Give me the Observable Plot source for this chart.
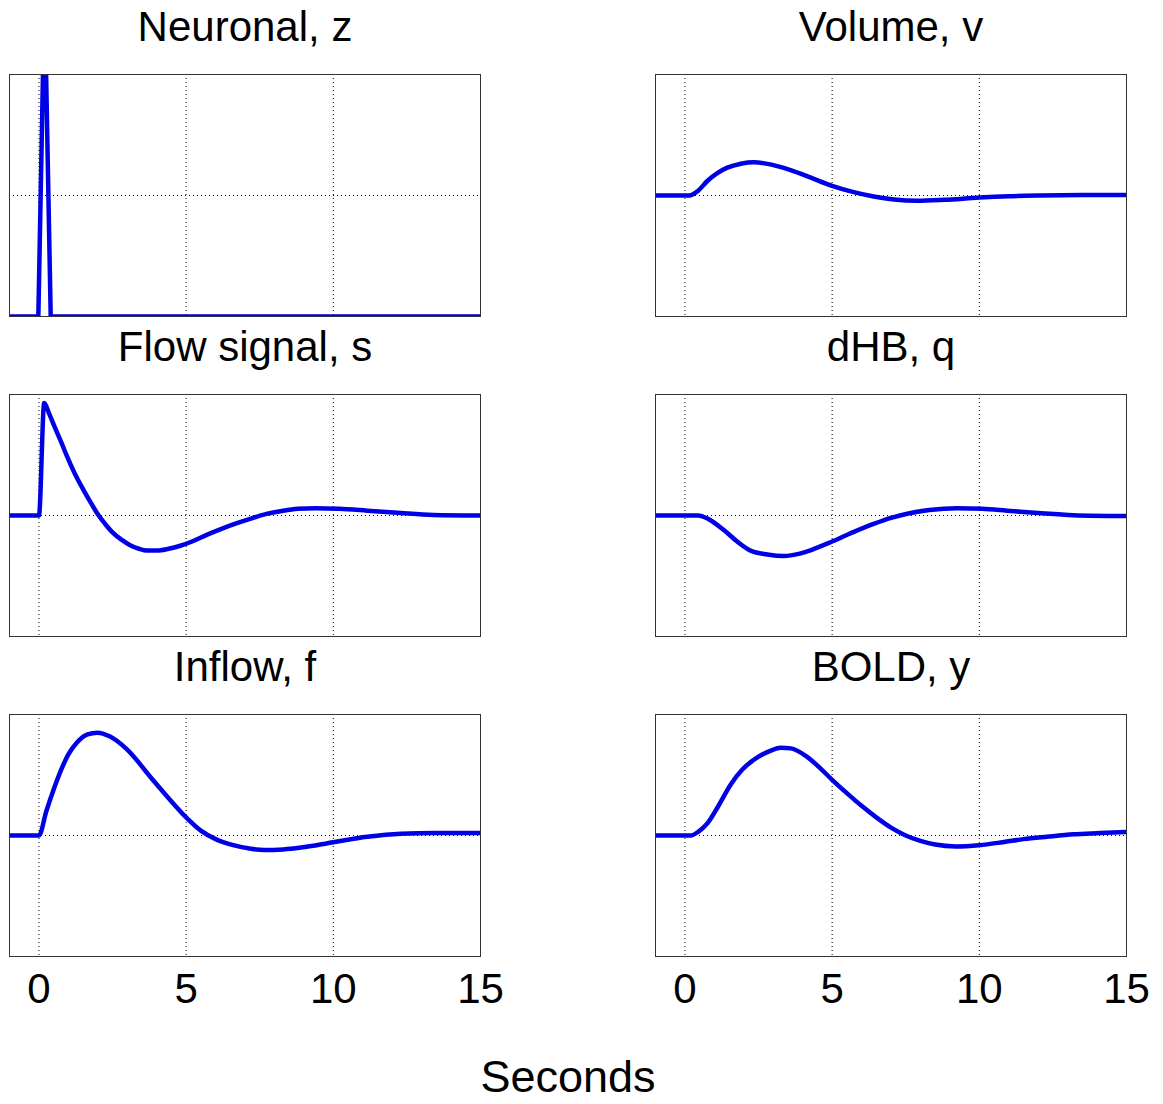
<!DOCTYPE html>
<html>
<head>
<meta charset="utf-8">
<script src="https://cdn.jsdelivr.net/npm/d3@7"></script>
<script src="https://cdn.jsdelivr.net/npm/@observablehq/plot@0.6"></script>
<style>
  body { margin: 0; background: #fff; font-family: "Liberation Sans", Arial, sans-serif; }
  #chart svg { display: block; }
  #xlabel { width: 1136px; margin-top: 24px; text-align: center; font-size: 45px; line-height: 45px; color: #000; }
</style>
</head>
<body>
<div id="chart"></div>
<div id="xlabel">Seconds</div>
<script>
// Panel layout and titles
const panelTitles = ["Neuronal, z", "Volume, v", "Flow signal, s", "dHB, q", "Inflow, f", "BOLD, y"];
const panelCols = [0, 1, 0, 1, 0, 1];
const panelRows = [0, 0, 1, 1, 2, 2];
const xTicks = [0, 5, 10, 15];
const gridX = [0, 5, 10];
const gridY = [0];

// Series (time in seconds, values in panel-normalised units, -1 = bottom, 1 = top)
const neuronalT = [-1, -0.02, 0.16, 0.22, 0.40, 15];
const neuronalZ = [-1, -1, 1.3, 1.3, -1, -1];

const volumeT = [-1, 0.15, 0.45, 0.76, 1.1, 1.44, 1.9, 2.34, 2.9, 3.59, 4.3, 5.0, 5.7, 6.41, 7.1, 7.88, 8.8, 10, 11, 12.07, 13.5, 15];
const volumeV = [0, 0, 0.04, 0.12, 0.185, 0.23, 0.263, 0.275, 0.257, 0.21, 0.145, 0.08, 0.03, -0.008, -0.033, -0.044, -0.036, -0.017, -0.006, 0, 0.004, 0.005];

const flowT = [-1, 0, 0.18, 0.35, 0.52, 0.75, 0.97, 1.25, 1.54, 1.8, 2.0, 2.25, 2.5, 2.8, 3.1, 3.4, 3.7, 4.0, 4.4, 4.8, 5.2, 5.7, 6.2, 6.7, 7.2, 7.76, 8.3, 8.8, 9.4, 10.2, 11.15, 12.3, 13.4, 15];
const flowS = [0, 0, 0.93, 0.84, 0.74, 0.61, 0.48, 0.33, 0.20, 0.09, 0.01, -0.07, -0.14, -0.2, -0.245, -0.275, -0.29, -0.29, -0.275, -0.25, -0.215, -0.16, -0.11, -0.065, -0.025, 0.015, 0.04, 0.055, 0.06, 0.055, 0.04, 0.02, 0.005, 0];

const dhbT = [-1, 0.45, 0.8, 1.32, 1.8, 2.23, 2.8, 3.36, 3.9, 4.45, 5.0, 5.7, 6.41, 7.0, 7.55, 8.3, 9.24, 10.1, 10.94, 12, 13.2, 15];
const dhbQ = [0, 0, -0.03, -0.12, -0.22, -0.29, -0.322, -0.335, -0.315, -0.27, -0.215, -0.14, -0.07, -0.02, 0.015, 0.045, 0.06, 0.055, 0.04, 0.02, 0.002, -0.005];

const inflowT = [-1, 0, 0.25, 0.5, 0.75, 1.0, 1.3, 1.65, 1.99, 2.4, 3.0, 3.8, 4.4, 5.0, 5.5, 6.0, 6.6, 7.2, 7.65, 8.3, 8.9, 10, 11.15, 12.3, 13.4, 15];
const inflowF = [0, 0, 0.2, 0.38, 0.54, 0.67, 0.77, 0.835, 0.85, 0.82, 0.71, 0.48, 0.31, 0.15, 0.04, -0.03, -0.08, -0.11, -0.12, -0.115, -0.1, -0.055, -0.01, 0.015, 0.02, 0.02];

const boldT = [-1, 0.19, 0.45, 0.76, 1.15, 1.55, 1.95, 2.46, 2.9, 3.25, 3.6, 4.15, 4.6, 5.0, 5.5, 6.0, 6.5, 7.0, 7.5, 8.0, 8.5, 9.2, 10, 10.8, 11.5, 12.3, 13.2, 14.1, 15];
const boldY = [0, 0, 0.03, 0.10, 0.25, 0.42, 0.545, 0.645, 0.70, 0.725, 0.72, 0.65, 0.555, 0.46, 0.35, 0.245, 0.15, 0.065, 0.0, -0.045, -0.075, -0.09, -0.08, -0.055, -0.03, -0.01, 0.01, 0.02, 0.03];

// Build a long table for the library
const seriesList = [
  {t: neuronalT, v: neuronalZ, smooth: false},
  {t: volumeT, v: volumeV, smooth: true},
  {t: flowT, v: flowS, smooth: true},
  {t: dhbT, v: dhbQ, smooth: true},
  {t: inflowT, v: inflowF, smooth: true},
  {t: boldT, v: boldY, smooth: true}
];
const lineData = [];
seriesList.forEach((s, i) => {
  s.t.forEach((t, j) => lineData.push({panel: i, col: panelCols[i], row: panelRows[i], t, v: s.v[j], smooth: s.smooth}));
});
const titleData = panelTitles.map((title, i) => ({title, col: panelCols[i], row: panelRows[i]}));

const blue = "#0000e6";
const chart = Plot.plot({
  width: 1163,
  height: 1030,
  marginLeft: 9,
  marginRight: 36,
  marginTop: 74,
  marginBottom: 74,
  style: {fontFamily: '"Liberation Sans", Arial, sans-serif', background: "white", color: "#000"},
  x: {domain: [-1, 15]},
  y: {domain: [-1, 1], axis: null},
  fx: {domain: [0, 1], paddingInner: 0.2707, paddingOuter: 0, axis: null},
  fy: {domain: [0, 1, 2], paddingInner: 0.24375, paddingOuter: 0, axis: null},
  marks: [
    Plot.ruleX(gridX, {stroke: "#000", strokeWidth: 1, strokeDasharray: "1,3"}),
    Plot.ruleY(gridY, {stroke: "#000", strokeWidth: 1, strokeDasharray: "1,3"}),
    Plot.line(lineData, {filter: d => !d.smooth, x: "t", y: "v", z: "panel", fx: "col", fy: "row", stroke: blue, strokeWidth: 4.5, clip: true}),
    Plot.line(lineData, {filter: d => d.smooth, x: "t", y: "v", z: "panel", fx: "col", fy: "row", stroke: blue, strokeWidth: 4.5, curve: "monotone-x", clip: true}),
    Plot.frame({stroke: "#333", strokeWidth: 1}),
    Plot.text(titleData, {fx: "col", fy: "row", text: "title", frameAnchor: "top", lineAnchor: "bottom", dy: -34, fontSize: 42, fill: "#000"}),
    Plot.axisX({ticks: xTicks, tickSize: 0, tickPadding: 17, fontSize: 42, label: null, fill: "#000"})
  ]
});
document.getElementById("chart").appendChild(chart);
</script>
</body>
</html>
